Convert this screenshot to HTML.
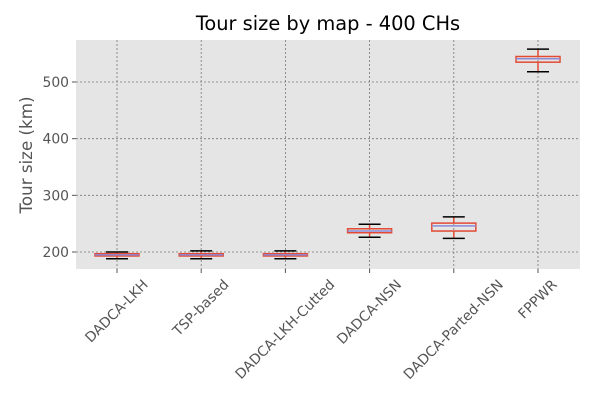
<!DOCTYPE html>
<html><head><meta charset="utf-8"><style>
body{margin:0;background:#fff;font-family:"DejaVu Sans","Liberation Sans",sans-serif}
</style></head><body>
<svg id="chart" width="600" height="400" xmlns="http://www.w3.org/2000/svg" font-family="DejaVu Sans, Liberation Sans, sans-serif">
<rect x="76" y="40" width="504" height="229" fill="#e5e5e5"/>
<text x="328" y="30" text-anchor="middle" font-size="19.4" fill="#000">Tour size by map - 400 CHs</text>
<text transform="translate(32,155) rotate(-90)" text-anchor="middle" font-size="16.7" fill="#555">Tour size (km)</text>
<g id="grid"></g><g id="marks"></g><g id="axes"></g>
</svg>
<script>
const categories=["DADCA-LKH","TSP-based","DADCA-LKH-Cutted","DADCA-NSN","DADCA-Parted-NSN","FPPWR"];
const whiskerLow=[188,188,188,226,224,518];
const q1=[193,193,193,234,237,535];
const medians=[195,195,195,237,246,541];
const q3=[197,197,197,241,251,545];
const whiskerHigh=[200,202,202,249,262,558];
const yTicks=[200,300,400,500];
const NS="http://www.w3.org/2000/svg";
const L=76,R=580,T=40,B=269;
const y=v=>252-(v-200)*(170/300);
const x=i=>117+i*(538-117)/(categories.length-1);
function mk(p,tag,a){const e=document.createElementNS(NS,tag);for(const k in a)e.setAttribute(k,a[k]);document.getElementById(p).appendChild(e);return e;}
yTicks.forEach(t=>{
 const g=mk('grid','line',{x1:L,x2:R,y1:y(t),y2:y(t),stroke:'#777','stroke-width':0.8,'stroke-dasharray':'2,2'});
 
 
 const tk=mk('axes','line',{x1:L-4,x2:L,y1:y(t),y2:y(t),stroke:'#555'});
 
 
 const tl=mk('axes','text',{x:L-7,y:y(t)+5,'text-anchor':'end','font-size':13.9,fill:'#555'});
 tl.textContent=t;
 
 
});
categories.forEach((c,i)=>{
 const cx=x(i);
 const g=mk('grid','line',{x1:cx,x2:cx,y1:T,y2:B,stroke:'#777','stroke-width':0.8,'stroke-dasharray':'2,2'});
 
 
 const tk=mk('axes','line',{x1:cx,x2:cx,y1:B,y2:B+4,stroke:'#555'});
 
 
 const tl=mk('axes','text',{'text-anchor':'middle','dominant-baseline':'central','font-size':13.9,fill:'#555'});
 tl.textContent=c;
 
 
 const len=tl.getComputedTextLength();
 const cy=B+9+(len+13)*0.7071/2;
 tl.setAttribute('transform',`translate(${cx},${cy}) rotate(-45)`);
 const w1=mk('marks','line',{x1:cx,x2:cx,y1:y(whiskerLow[i]),y2:y(q1[i]),stroke:'#e24a33','stroke-width':1.5});
 
 
 const w2=mk('marks','line',{x1:cx,x2:cx,y1:y(q3[i]),y2:y(whiskerHigh[i]),stroke:'#e24a33','stroke-width':1.5});
 
 
 [whiskerLow[i],whiskerHigh[i]].forEach(v=>{
  const cap=mk('marks','line',{x1:cx-11,x2:cx+11,y1:y(v),y2:y(v),stroke:'#000','stroke-width':1.5});
  
  
 });
 const bx=mk('marks','rect',{x:cx-22,y:y(q3[i]),width:44,height:Math.max(y(q1[i])-y(q3[i]),1.5),fill:'none',stroke:'#e24a33','stroke-width':1.5});
 
 
 const md=mk('marks','line',{x1:cx-22,x2:cx+22,y1:y(medians[i]),y2:y(medians[i]),stroke:'#8b8bd8','stroke-width':1.5});
 
 
});
</script>
</body></html>
